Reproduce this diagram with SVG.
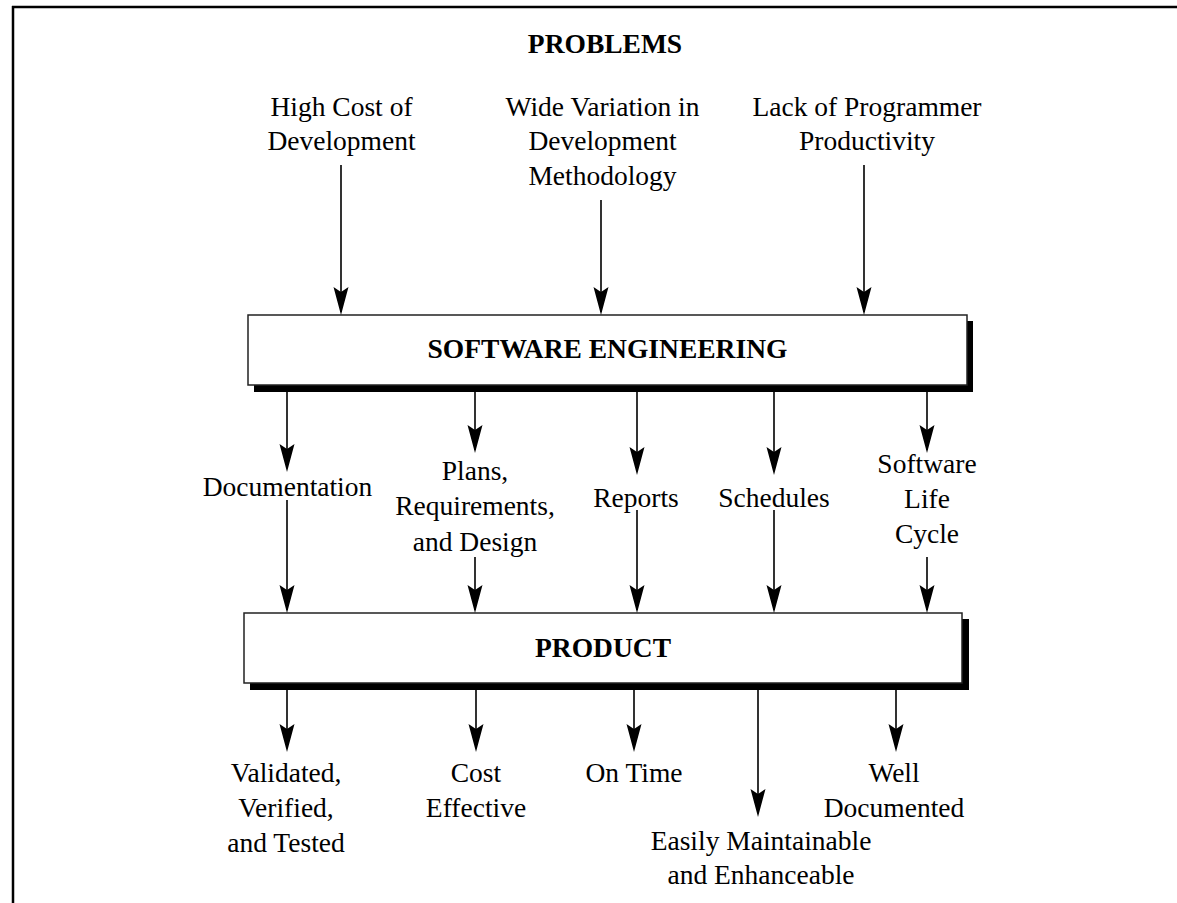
<svg xmlns="http://www.w3.org/2000/svg" width="1177" height="903" viewBox="0 0 1177 903">
<style>
text{font-family:"Liberation Serif","Times New Roman",serif;font-size:27.5px;fill:#000;text-anchor:middle}
.b{font-weight:bold}
.ln{stroke:#000;stroke-width:1.6;fill:none}
.box{fill:#fff;stroke:#222;stroke-width:1.5}
.sh{fill:#000}
</style>
<defs>
<marker id="ah" markerUnits="userSpaceOnUse" markerWidth="16" markerHeight="30" viewBox="-8 -29 16 30" refX="0" refY="0" orient="auto-start-reverse">
<path d="M0,0 L-7.5,-28 L0,-23 L7.5,-28 Z" fill="#000" transform="rotate(-90)"/>
</marker>
<path id="head" d="M0,0 L-7.5,-28 L0,-23 L7.5,-28 Z" fill="#000"/>
</defs>
<rect width="1177" height="903" fill="#fff"/>
<g id="frame">
<line x1="12" y1="7" x2="1177" y2="7" stroke="#000" stroke-width="2.5"/>
<line x1="13" y1="6" x2="13" y2="903" stroke="#000" stroke-width="2.5"/>
</g>
<g id="title"><text class="b" x="605" y="53">PROBLEMS</text></g>
<g id="p1"><text x="341.5" y="116">High Cost of</text><text x="341.5" y="150">Development</text></g>
<g id="p2"><text x="602.5" y="116">Wide Variation in</text><text x="602.5" y="150">Development</text><text x="602.5" y="185">Methodology</text></g>
<g id="p3"><text x="867" y="116">Lack of Programmer</text><text x="867" y="150">Productivity</text></g>
<g id="se">
<rect class="sh" x="254" y="321" width="719" height="71"/>
<rect class="box" x="248" y="315" width="719" height="70"/>
<text class="b" x="607.5" y="358">SOFTWARE ENGINEERING</text>
</g>
<g id="m1"><text x="287.5" y="496">Documentation</text></g>
<g id="m2"><text x="475" y="480">Plans,</text><text x="475" y="515">Requirements,</text><text x="475" y="551">and Design</text></g>
<g id="m3"><text x="636" y="507">Reports</text></g>
<g id="m4"><text x="774" y="507">Schedules</text></g>
<g id="m5"><text x="927" y="473">Software</text><text x="927" y="508">Life</text><text x="927" y="543">Cycle</text></g>
<g id="product">
<rect class="sh" x="250" y="619" width="719" height="71"/>
<rect class="box" x="244" y="613" width="718" height="70"/>
<text class="b" x="603" y="657">PRODUCT</text>
</g>
<g id="o1"><text x="286" y="782">Validated,</text><text x="286" y="817">Verified,</text><text x="286" y="852">and Tested</text></g>
<g id="o2"><text x="476" y="782">Cost</text><text x="476" y="817">Effective</text></g>
<g id="o3"><text x="634" y="782">On Time</text></g>
<g id="o4"><text x="761" y="850">Easily Maintainable</text><text x="761" y="884">and Enhanceable</text></g>
<g id="o5"><text x="894" y="782">Well</text><text x="894" y="817">Documented</text></g>
<g id="connectors">
<path class="ln" d="M341,165V312 M601,200V312 M864,165V312"/>
<use href="#head" x="341" y="315"/><use href="#head" x="601" y="315"/><use href="#head" x="864" y="315"/>
<path class="ln" d="M287,392V468 M475,392V450 M637,392V471 M774,392V471 M927,392V450"/>
<use href="#head" x="287" y="472"/><use href="#head" x="475" y="453"/><use href="#head" x="637" y="475"/><use href="#head" x="774" y="475"/><use href="#head" x="927" y="453"/>
<path class="ln" d="M287,500V610 M475,557V610 M637,510V610 M774,510V610 M927,557V610"/>
<use href="#head" x="287" y="613"/><use href="#head" x="475" y="613"/><use href="#head" x="637" y="613"/><use href="#head" x="774" y="613"/><use href="#head" x="927" y="613"/>
<path class="ln" d="M287,690V748 M476,690V748 M634,690V748 M758,690V813 M896,690V748"/>
<use href="#head" x="287" y="752"/><use href="#head" x="476" y="752"/><use href="#head" x="634" y="752"/><use href="#head" x="758" y="817"/><use href="#head" x="896" y="752"/>
</g>
</svg>
